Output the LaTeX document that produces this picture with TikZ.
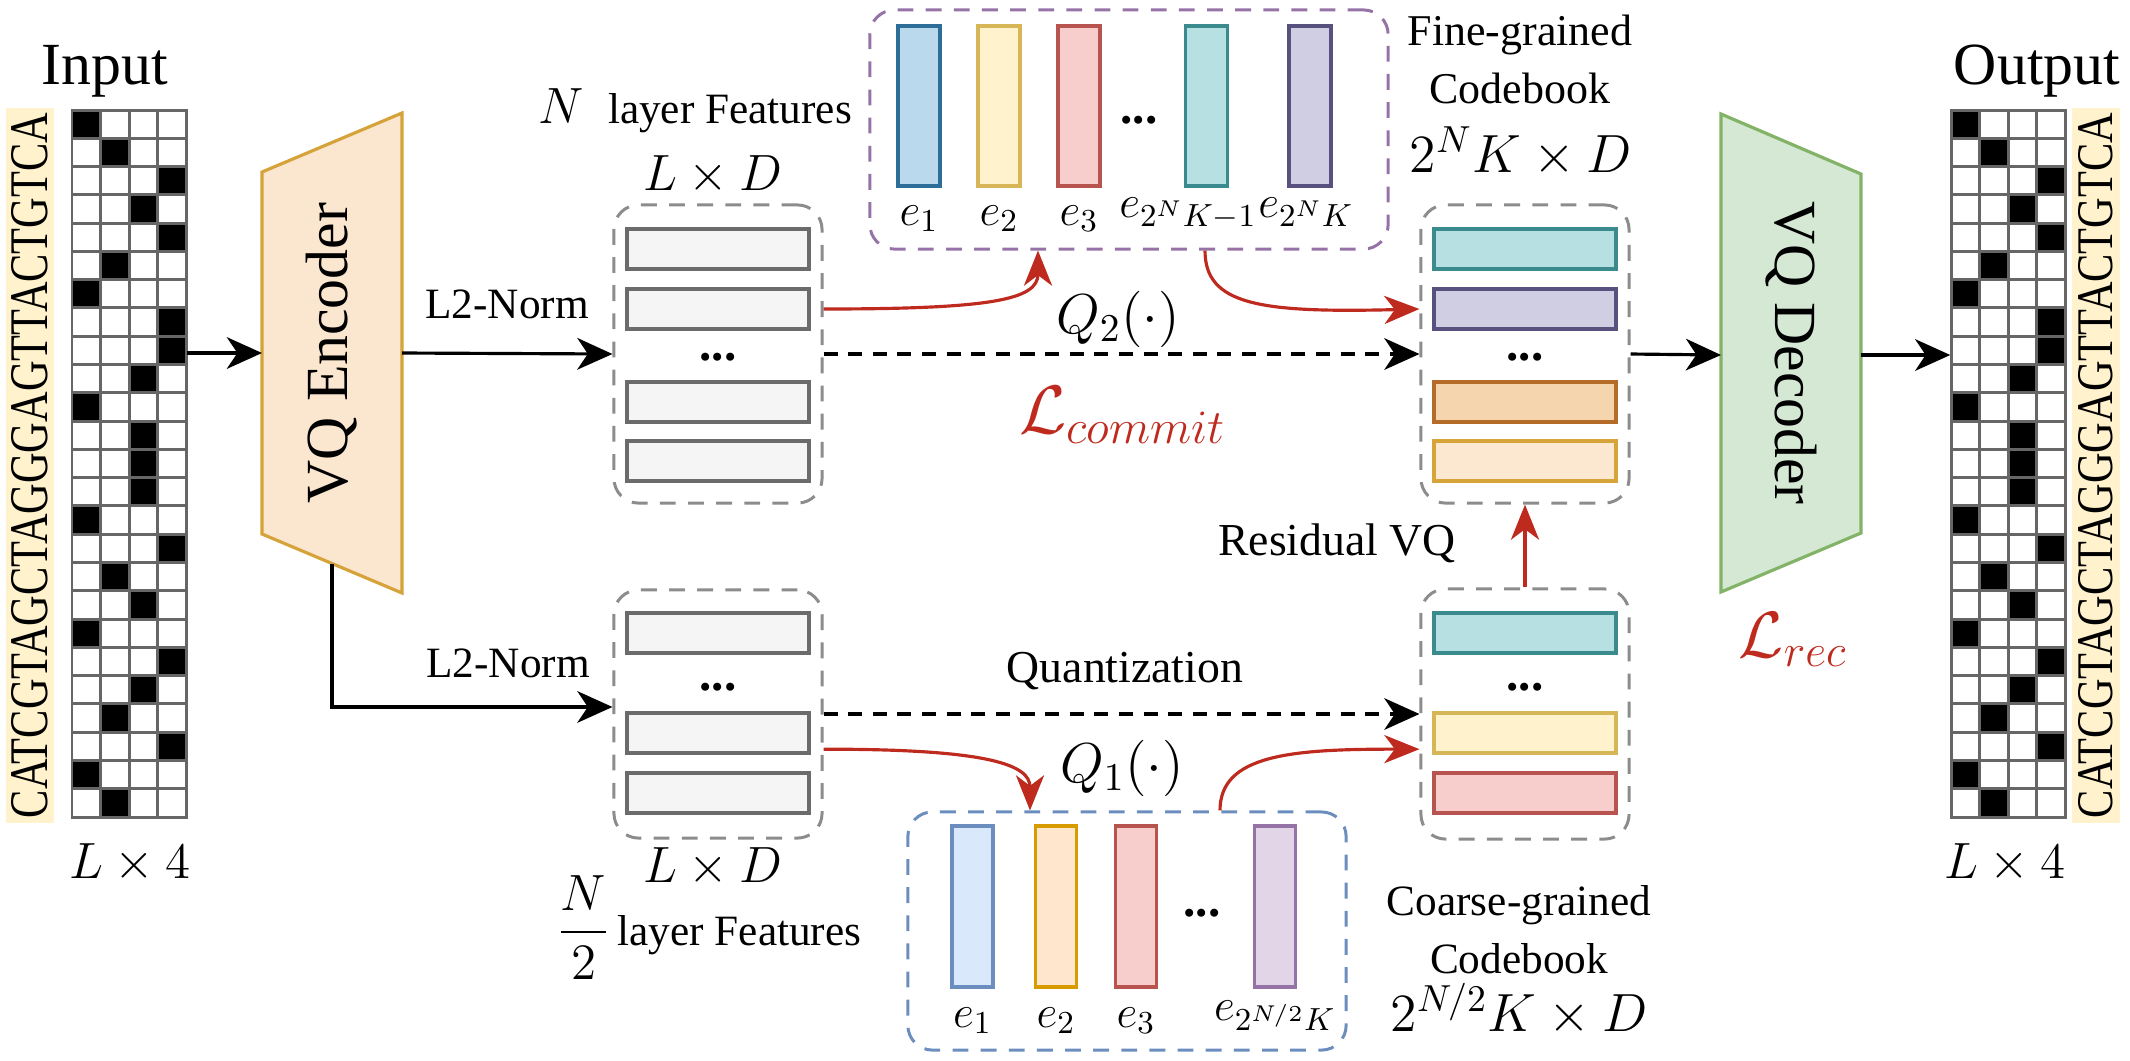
\documentclass[tikz,border=0pt]{standalone}
\usepackage{fix-cm}
\usepackage{amsmath}
\usepackage{graphicx}
\usepackage[no-math]{fontspec}
\setmainfont{Liberation Serif}
\usetikzlibrary{arrows.meta}

\definecolor{gridgray}{HTML}{666666}
\definecolor{stripfill}{HTML}{FFF2CC}
\definecolor{rectgray}{HTML}{6B6B6B}
\definecolor{rectfill}{HTML}{F5F5F5}
\definecolor{boxgray}{HTML}{8C8C8C}
\definecolor{cbpurple}{HTML}{9673A6}
\definecolor{cbblue}{HTML}{6C8EBF}
\definecolor{encfill}{HTML}{FBE6D0}
\definecolor{encline}{HTML}{D6A33A}
\definecolor{decfill}{HTML}{D5E8D4}
\definecolor{decline}{HTML}{82B366}
\definecolor{arrred}{HTML}{BF2A1F}
\definecolor{bluef}{HTML}{BAD9EC}
\definecolor{blued}{HTML}{2D6E99}
\definecolor{yelf}{HTML}{FFF2CC}
\definecolor{yeld}{HTML}{D6B656}
\definecolor{redf}{HTML}{F8CECC}
\definecolor{redd}{HTML}{B85450}
\definecolor{tealf}{HTML}{B7E0E3}
\definecolor{teald}{HTML}{3B8A8D}
\definecolor{purf}{HTML}{D0CEE2}
\definecolor{purd}{HTML}{56517E}
\definecolor{orgf}{HTML}{F4D5AE}
\definecolor{orgd}{HTML}{B46C28}
\definecolor{ltof}{HTML}{FCE7D0}
\definecolor{ltod}{HTML}{D7A43A}
\definecolor{cbluef}{HTML}{DAE8FC}
\definecolor{cblued}{HTML}{6C8EBF}
\definecolor{corgf}{HTML}{FFE6CC}
\definecolor{corgd}{HTML}{D79B00}
\definecolor{lilf}{HTML}{E1D5E7}
\definecolor{lild}{HTML}{9673A6}

\newcommand{\fsz}[1]{\fontsize{#1}{#1}\selectfont}
\newcommand{\dna}{CATCGTAGCTAGGGAGTTACTGTCA}

\begin{document}
\begin{tikzpicture}[x=0.01cm,y=-0.01cm,
  gridline/.style={draw=gridgray,line width=0.85pt,line cap=rect},
  strip/.style={rotate=90,fill=stripfill,inner sep=0pt,minimum width=7.15cm,minimum height=0.48cm},
  frect/.style={draw=rectgray,fill=rectfill,line width=1pt,minimum width=1.82cm,minimum height=0.4cm,inner sep=0pt},
  fbox/.style={draw=boxgray,line width=0.85pt,dash pattern=on 4.5pt off 3.5pt,rounded corners=7pt,minimum width=2.08cm,inner sep=0pt},
  bar/.style={line width=0.9pt,minimum width=0.42cm,minimum height=1.6cm,inner sep=0pt},
  lab/.style={anchor=base,inner sep=0pt},
  arr/.style={line width=0.9pt,-{Stealth[length=10pt,width=9pt,inset=3pt]}},
  darr/.style={arr,dash pattern=on 4pt off 3pt},
  rarr/.style={line width=0.9pt,draw=arrred,-{Stealth[length=10pt,width=8pt,inset=3pt]}}]
\useasboundingbox (0,0) rectangle (2130,1060);

\foreach \gx in {72,1951}{
  \foreach \c [count=\r from 0] in {1,2,4,3,4,2,1,4,4,3,1,3,3,3,1,4,2,3,1,4,3,2,4,1,2}
    \fill ({\gx+(\c-1)*28.6},{110+\r*28.28}) rectangle +(28.6,28.28);
  \foreach \k in {0,...,4}
    \draw[gridline] ({\gx+\k*28.6},110) -- +(0,707);
  \foreach \r in {0,...,25}
    \draw[gridline] (\gx,{110+\r*28.28}) -- +(114.4,0);
}
\node[inner sep=0pt,minimum width=1.144cm,minimum height=7.07cm] (gin) at (129.2,463.5) {};
\node[inner sep=0pt,minimum width=1.144cm,minimum height=7.07cm] (gout) at (2008.2,463.5) {};
\node[strip] (sin) at (30,465.5) {\resizebox{7.05cm}{0.36cm}{\dna}};
\node[strip] (sout) at (2096,465.5) {\resizebox{7.05cm}{0.34cm}{\dna}};
\node[lab,font=\fsz{17pt}] (tin) at (105,84) {Input};
\node[lab,font=\fsz{17pt}] (tout) at (2037,84) {Output};
\node[lab,font=\fsz{14.5pt}] (din) at (130,878) {$L\times 4$};
\node[lab,font=\fsz{14.5pt}] (dout) at (2005,878) {$L\times 4$};

\draw[line width=0.9pt,draw=encline,fill=encfill] (262,172) -- (402,113) -- (402,593) -- (262,534) -- cycle;
\node[rotate=90,font=\fsz{17pt}] (enc) at (332,353) {VQ Encoder};
\coordinate (enc-w) at (262,353);
\coordinate (enc-e) at (402,353);
\coordinate (enc-s) at (332,563.5);
\draw[line width=0.9pt,draw=decline,fill=decfill] (1721,114) -- (1861,174) -- (1861,533) -- (1721,592) -- cycle;
\node[rotate=-90,font=\fsz{17pt}] (dec) at (1791,353) {VQ Decoder};
\coordinate (dec-w) at (1721,355);
\coordinate (dec-e) at (1861,355);

\node[fbox,minimum height=2.98cm] (fa) at (718,354) {};
\node[fbox,minimum height=2.48cm] (fb) at (718,714) {};
\node[fbox,minimum height=2.98cm] (ra) at (1525,354) {};
\node[fbox,minimum height=2.50cm] (rb) at (1525,714) {};
\foreach \y [count=\i] in {249,309,402,461}
  \node[frect] (a\i) at (718,\y) {};
\foreach \y [count=\i] in {633,733,793}
  \node[frect] (b\i) at (718,\y) {};
\foreach \y/\f/\d [count=\i] in {249/tealf/teald,309/purf/purd,402/orgf/orgd,461/ltof/ltod}
  \node[frect,fill=\f,draw=\d] (c\i) at (1525,\y) {};
\foreach \y/\f/\d [count=\i] in {633/tealf/teald,733/yelf/yeld,793/redf/redd}
  \node[frect,fill=\f,draw=\d] (d\i) at (1525,\y) {};
\foreach \x/\y [count=\i] in {718/357,718/687,1525/357,1525/687,1139/120,1202/913}
  \node[font=\fsz{14pt}\bfseries] (dt\i) at (\x,\y) {...};

\node[fbox,draw=cbpurple,minimum width=5.18cm,minimum height=2.39cm] (cbf) at (1129,129.5) {};
\node[fbox,draw=cbblue,minimum width=4.38cm,minimum height=2.38cm] (cbc) at (1127,931) {};
\foreach \x/\f/\d [count=\i] in {919/bluef/blued,999/yelf/yeld,1079/redf/redd,1206.5/tealf/teald,1310/purf/purd}
  \node[bar,fill=\f,draw=\d] (p\i) at (\x,106) {};
\node[lab,font=\fsz{13pt}] (pl1) at (p1 |- 0,225) {$e_1$};
\node[lab,font=\fsz{13pt}] (pl2) at (p2 |- 0,225) {$e_2$};
\node[lab,font=\fsz{13pt}] (pl3) at (p3 |- 0,225) {$e_3$};
\node[lab,font=\fsz{13pt}] (pl4) at (1188,217) {$e_{2^NK-1}$};
\node[lab,font=\fsz{13pt}] (pl5) at (1306,217) {$e_{2^NK}$};
\foreach \x/\f/\d [count=\i] in {972.5/cbluef/cblued,1056/corgf/corgd,1136/redf/redd,1275/lilf/lild}
  \node[bar,fill=\f,draw=\d,minimum width=0.41cm,minimum height=1.61cm] (q\i) at (\x,906.5) {};
\node[lab,font=\fsz{13pt}] (ql1) at (q1 |- 0,1027) {$e_1$};
\node[lab,font=\fsz{13pt}] (ql2) at (q2 |- 0,1027) {$e_2$};
\node[lab,font=\fsz{13pt}] (ql3) at (q3 |- 0,1027) {$e_3$};
\node[lab,font=\fsz{13pt}] (ql4) at (q4 |- 0,1020) {$e_{2^{N/2}K}$};

\node[lab,font=\fsz{12.5pt}] (fg1) at (1520,45) {Fine-grained};
\node[lab,font=\fsz{12.5pt}] (fg2) at (1520,103) {Codebook};
\node[lab,font=\fsz{15.3pt}] (fg3) at (1521,172) {$2^NK\times D$};
\node[lab,font=\fsz{12.3pt}] (cg1) at (1519,915) {Coarse-grained};
\node[lab,font=\fsz{12.3pt}] (cg2) at (1519,973) {Codebook};
\node[lab,font=\fsz{15.3pt}] (cg3) at (1519,1031) {$2^{N/2}K\times D$};
\node[lab,font=\fsz{12.3pt}] (fla) at (695,123) {{\fsz{14.5pt}$N$}\hspace{7pt}layer Features};
\node[lab,font=\fsz{14.5pt}] (lda) at (713,190) {$L\times D$};
\node[lab,font=\fsz{14.5pt}] (ldb) at (713,882) {$L\times D$};
\node[lab,font=\fsz{12.3pt}] (flb) at (709,945) {{\fsz{14.5pt}$\dfrac{N}{2}$}\hspace{2pt}layer Features};
\node[lab,font=\fsz{12.3pt}] (n1) at (507,318) {L2-Norm};
\node[lab,font=\fsz{12.3pt}] (n2) at (508,677) {L2-Norm};
\node[lab,font=\fsz{16pt}] (qa) at (1118,333) {$Q_2(\cdot)$};
\node[lab,font=\fsz{19.5pt},text=arrred] (lc) at (1123,433) {$\mathcal{L}_{commit}$};
\node[lab,font=\fsz{13pt}] (qz) at (1125,682) {Quantization};
\node[lab,font=\fsz{16pt}] (qb) at (1122,782) {$Q_1(\cdot)$};
\node[lab,font=\fsz{13pt}] (rv) at (1337,555) {Residual VQ};
\node[lab,font=\fsz{18.6pt},text=arrred] (lr) at (1793,657) {$\mathcal{L}_{rec}$};

\draw[arr] (gin.east |- enc-w) -- (enc-w);
\draw[arr] (enc-e) -- (fa.west);
\draw[arr] (enc-s) |- ([yshift=2pt]fb.west);
\draw[darr] (fa.east) -- (ra.west);
\draw[darr] (fb.east) -- (rb.west);
\draw[arr] (ra.east) -- (dec-w);
\draw[arr] (dec-e) -- (gout.west |- dec-e);
\draw[rarr] (fa.east |- a2) .. controls (990,309) and (1038,300) .. (cbf.south -| 1038,0);
\draw[rarr] (cbf.south -| 1205,0) .. controls (1205,305) and (1260,313) .. (ra.west |- c2);
\draw[rarr] ([yshift=-10pt]fb.east) .. controls (990,749) and (1030,765) .. (cbc.north -| 1030,0);
\draw[rarr] (cbc.north -| 1220,0) .. controls (1220,755) and (1290,749) .. ([yshift=-10pt]rb.west);
\draw[rarr] (rb.north) -- (ra.south);
\end{tikzpicture}
\end{document}
